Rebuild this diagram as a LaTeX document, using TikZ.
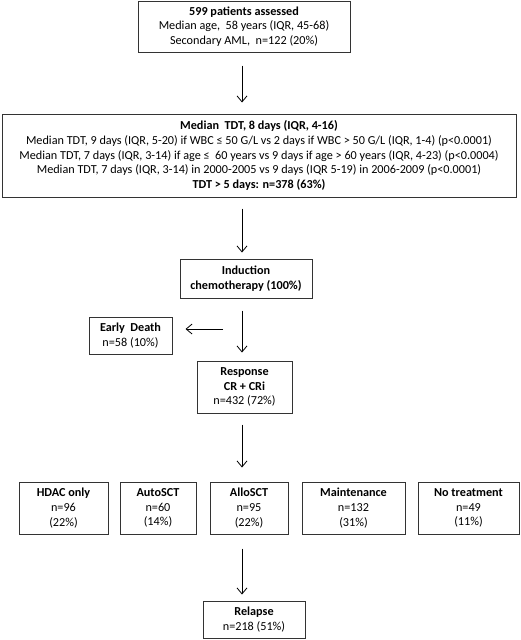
\documentclass[tikz,border=0pt]{standalone}
\usepackage{fontspec}
\setmainfont{Carlito}
\usetikzlibrary{positioning,calc}
\usetikzlibrary{arrows.meta}

\begin{document}
\begin{tikzpicture}[x=1pt, y=-1pt, >={Straight Barb[length=6pt,width=10pt]},
  box/.style={draw=black!80, line width=1pt, align=center, inner sep=0pt, font=\fontsize{12.2}{14.7}\selectfont},
  link/.style={->, line width=0.8pt}]
\useasboundingbox (0,0) rectangle (520,640);
\coordinate (spine) at (242,0);
\node[box, minimum width=212pt, minimum height=51pt] (pat) at (244,26.5) {\textbf{599 patients assessed}\\Median age,\ \ 58 years (IQR, 45-68)\\Secondary AML,\ \ n=122 (20\%)};
\node[box, minimum width=514pt, minimum height=83pt] (tdt) at (259,155.5) {\textbf{Median\ \ TDT, 8 days (IQR, 4-16)}\\Median TDT, 9 days (IQR, 5-20) if WBC ≤ 50 G/L vs 2 days if WBC > 50 G/L (IQR, 1-4) (p<0.0001)\\Median TDT, 7 days (IQR, 3-14) if age ≤\ \ 60 years vs 9 days if age > 60 years (IQR, 4-23) (p<0.0004)\\Median TDT, 7 days (IQR, 3-14) in 2000-2005 vs 9 days (IQR 5-19) in 2006-2009 (p<0.0001)\\\textbf{TDT > 5 days: n=378 (63\%)}};
\node[box, minimum width=132pt, minimum height=39pt] (induc) at (246,278.5) {\textbf{Induction}\\\textbf{chemotherapy (100\%)}};
\node[box, minimum width=83pt, minimum height=37pt] (early) at (130.5,335.5) {\textbf{Early\ \ Death}\\n=58 (10\%)};
\node[box, minimum width=95pt, minimum height=52pt] (resp) at (244.5,387) {\textbf{Response}\\\textbf{CR + CRi}\\n=432 (72\%)};
\node[box, minimum width=89pt, minimum height=52pt] (hdac) at (63.5,508) {\textbf{HDAC only}\\n=96\\(22\%)};
\node[box, minimum width=76pt, minimum height=52pt] (auto) at (158,508) {\textbf{AutoSCT}\\n=60\\(14\%)};
\node[box, minimum width=78pt, minimum height=52pt] (allo) at (249,508) {\textbf{AlloSCT}\\n=95\\(22\%)};
\node[box, minimum width=103pt, minimum height=52pt] (maint) at (353.5,508) {\textbf{Maintenance}\\n=132\\(31\%)};
\node[box, minimum width=101pt, minimum height=52pt] (notr) at (468.5,508) {\textbf{No treatment}\\n=49\\(11\%)};
\node[box, minimum width=102pt, minimum height=37pt] (relap) at (254,619.5) {\textbf{Relapse}\\n=218 (51\%)};
\coordinate (split) at (242,329);
\draw[link, shorten <=13pt, shorten >=11pt] (pat.south -| spine) -- (tdt.north -| spine);
\draw[link, shorten <=11pt, shorten >=6pt] (tdt.south -| spine) -- (induc.north -| spine);
\draw[link, shorten <=12pt, shorten >=8pt] (induc.south -| spine) -- (resp.north -| spine);
\draw[link, shorten <=19pt, shorten >=13pt] (split) -- (split -| early.east);
\draw[link, shorten <=11pt, shorten >=14pt] (resp.south -| spine) -- (allo.north -| spine);
\draw[link, shorten <=14pt, shorten >=6pt] (allo.south -| spine) -- (relap.north -| spine);
\end{tikzpicture}
\end{document}
